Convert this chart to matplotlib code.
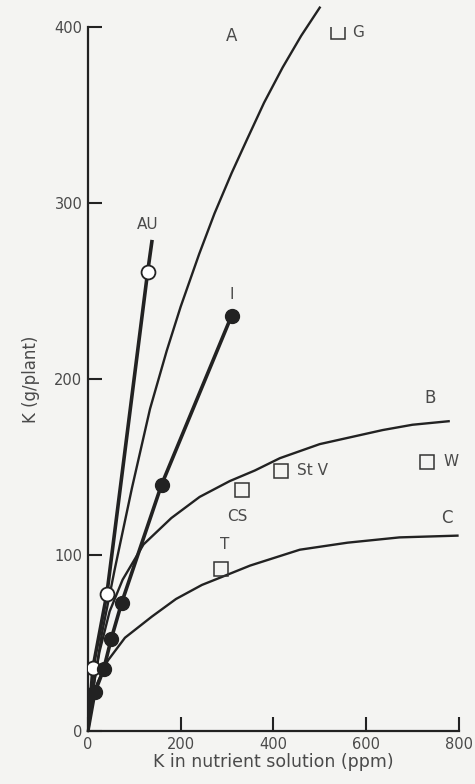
import matplotlib
matplotlib.use("Agg")
import matplotlib.pyplot as plt

# curves (K in solution ppm, K g/plant)
a_x = [0, 15, 30, 58, 95, 134, 170, 200, 240, 273, 310, 343, 380, 420, 460, 500]
a_y = [0, 30, 55, 92, 138, 183, 216, 241, 271, 294, 317, 336, 357, 377, 395, 411]
b_x = [0, 10, 25, 47, 75, 120, 180, 241, 306, 360, 414, 500, 636, 700, 778]
b_y = [0, 22, 45, 68, 86, 106, 121, 133, 142, 148, 155, 163, 171, 174, 176]
c_x = [0, 10, 20, 43, 80, 138, 190, 246, 284, 350, 457, 560, 672, 797]
c_y = [0, 16, 27, 40, 53, 65, 75, 83, 87, 94, 103, 107, 110, 111]

# AU: open circles
au_x = [11, 41, 129]
au_y = [36, 78, 261]
au_line_x = [0, 11, 41, 129, 138]
au_line_y = [0, 36, 78, 261, 278]

# I: filled circles
i_x = [15, 34, 50, 73, 159, 310]
i_y = [22, 35, 52, 73, 140, 236]

# field sites (open squares)
site_x = [539, 416, 332, 731, 287]
site_y = [397, 148, 137, 153, 92]

ink = "#222222"
txt = "#4a4a4a"
bg = "#f4f4f2"

fig = plt.figure(figsize=(4.75, 7.84), dpi=100, facecolor=bg)
ax = fig.add_axes([0.185, 0.0676, 0.781, 0.898])
ax.set_facecolor(bg)

ax.plot(a_x, a_y, color=ink, lw=1.7, clip_on=False)
ax.plot(b_x, b_y, color=ink, lw=1.7)
ax.plot(c_x, c_y, color=ink, lw=1.7)

ax.plot(au_line_x, au_line_y, color=ink, lw=2.6, zorder=3)
ax.plot(au_x, au_y, "o", ms=10, mfc="white", mec=ink, mew=1.3, zorder=4)
ax.plot([0] + i_x, [0] + i_y, color=ink, lw=2.6, zorder=3)
ax.plot(i_x, i_y, "o", ms=10, color=ink, zorder=4)

ax.plot(site_x, site_y, "s", ms=10, mfc="none", mec="#333333", mew=1.1)

# labels
ax.text(310, 395, "A", color=txt, fontsize=12, ha="center", va="center")
ax.text(737, 189, "B", color=txt, fontsize=12, ha="center", va="center")
ax.text(774, 121, "C", color=txt, fontsize=12, ha="center", va="center")
ax.text(129, 288, "AU", color=txt, fontsize=11, ha="center", va="center")
ax.text(310, 248, "I", color=txt, fontsize=11, ha="center", va="center")
ax.text(570, 397, "G", color=txt, fontsize=11, ha="left", va="center")
ax.text(452, 148, "St V", color=txt, fontsize=11, ha="left", va="center")
ax.text(766, 153, "W", color=txt, fontsize=11, ha="left", va="center")
ax.text(323, 122, "CS", color=txt, fontsize=11, ha="center", va="center")
ax.text(295, 106, "T", color=txt, fontsize=11, ha="center", va="center")

ax.set_xlim(0, 800)
ax.set_ylim(0, 400)
ax.set_xticks([0, 200, 400, 600, 800])
ax.set_yticks([0, 100, 200, 300, 400])
ax.tick_params(direction="in", length=10, width=1.5, colors=ink,
               labelcolor=txt, labelsize=10.5, pad=4)
for s in ["top", "right"]:
    ax.spines[s].set_visible(False)
for s in ["left", "bottom"]:
    ax.spines[s].set_linewidth(1.6)
    ax.spines[s].set_color(ink)

ax.set_xlabel("K in nutrient solution (ppm)", color=txt, fontsize=12.5, labelpad=1)
ax.set_ylabel("K (g/plant)", color=txt, fontsize=12, labelpad=10)

fig.savefig("out.png", dpi=100, facecolor=bg)
